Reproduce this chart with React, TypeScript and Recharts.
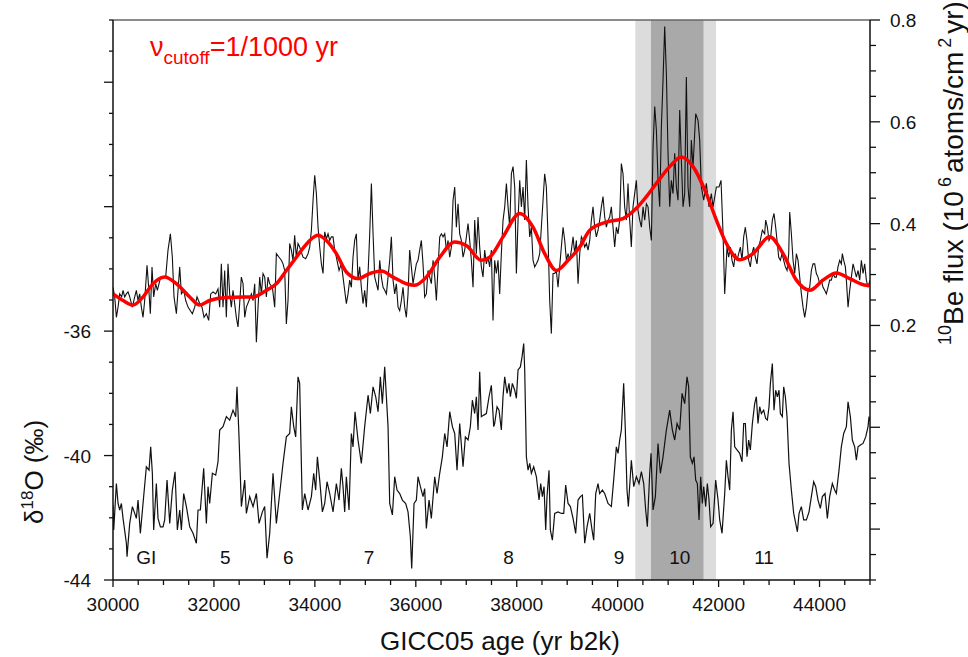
import React from 'react';
import {
  ComposedChart,
  Line,
  XAxis,
  YAxis,
  ReferenceArea,
  ReferenceLine,
  ReferenceDot,
} from 'recharts';

const FONT = '"Liberation Sans", Arial, Helvetica, sans-serif';

// ---------- axis ticks ----------
const xTicks = [
  30000, 30500, 31000, 31500, 32000, 32500, 33000, 33500, 34000, 34500, 35000, 35500,
  36000, 36500, 37000, 37500, 38000, 38500, 39000, 39500, 40000, 40500, 41000, 41500,
  42000, 42500, 43000, 43500, 44000, 44500, 45000,
];
const xTickLabels = [30000, 32000, 34000, 36000, 38000, 40000, 42000, 44000];
const d18oTicks = [-44, -43, -42, -41, -40, -39, -38, -37, -36, -35, -34, -33, -32, -31, -30, -29, -28, -27, -26];
const d18oMajorTicks = [-44, -40, -36, -32, -28];
const d18oTickLabels = [-44, -40, -36];
const beTicks = [
  -0.3, -0.25, -0.2, -0.15, -0.1, -0.05, 0, 0.05, 0.1, 0.15, 0.2, 0.25, 0.3, 0.35, 0.4,
  0.45, 0.5, 0.55, 0.6, 0.65, 0.7, 0.75, 0.8,
];
const beMajorTicks = [-0.2, 0, 0.2, 0.4, 0.6, 0.8];
const beTickLabels = [0.2, 0.4, 0.6, 0.8];

// ---------- shaded intervals (yr b2k) ----------
const outerBand = [40350, 41950];
const innerBand = [40660, 41700];

// ---------- event labels ----------
const eventNames = ['GI', '5', '6', '7', '8', '9', '10', '11'];
const eventAges = [30660, 32225, 33475, 35075, 37840, 40025, 41230, 42900];
const eventLevel = -43.26;

// ---------- 10Be flux (10^6 atoms/cm2/yr) ----------
const be10Record: [number, number][] = [
  [30000, 0.275], [30034, 0.256], [30067, 0.216], [30100, 0.236], [30133, 0.262], [30172, 0.256],
  [30199, 0.269], [30232, 0.256], [30265, 0.262], [30298, 0.266], [30331, 0.256], [30384, 0.236],
  [30430, 0.256], [30463, 0.269], [30496, 0.249], [30529, 0.262], [30562, 0.236], [30595, 0.216],
  [30628, 0.249], [30674, 0.318], [30707, 0.275], [30740, 0.223], [30773, 0.315], [30806, 0.256],
  [30846, 0.282], [30879, 0.269], [30912, 0.282], [30945, 0.295], [30991, 0.295], [31044, 0.295],
  [31090, 0.348], [31137, 0.380], [31176, 0.334], [31209, 0.256], [31256, 0.223], [31289, 0.269],
  [31322, 0.315], [31355, 0.262], [31401, 0.269], [31441, 0.249], [31487, 0.236], [31533, 0.229],
  [31573, 0.223], [31619, 0.236], [31665, 0.256], [31718, 0.243], [31764, 0.236], [31804, 0.216],
  [31850, 0.223], [31896, 0.210], [31936, 0.262], [31982, 0.266], [32035, 0.262], [32081, 0.272],
  [32114, 0.236], [32147, 0.321], [32180, 0.236], [32213, 0.308], [32246, 0.216], [32279, 0.321],
  [32312, 0.262], [32345, 0.236], [32378, 0.269], [32411, 0.243], [32444, 0.216], [32477, 0.197],
  [32510, 0.243], [32543, 0.295], [32577, 0.282], [32610, 0.216], [32643, 0.236], [32695, 0.249],
  [32742, 0.262], [32775, 0.249], [32808, 0.282], [32841, 0.167], [32874, 0.236], [32907, 0.295],
  [32940, 0.262], [32973, 0.302], [33006, 0.295], [33039, 0.256], [33072, 0.295], [33105, 0.282],
  [33158, 0.275], [33204, 0.236], [33237, 0.341], [33290, 0.334], [33336, 0.328], [33369, 0.321],
  [33402, 0.308], [33435, 0.203], [33468, 0.249], [33501, 0.361], [33534, 0.348], [33567, 0.328],
  [33600, 0.377], [33633, 0.334], [33666, 0.361], [33699, 0.354], [33766, 0.334], [33818, 0.331],
  [33865, 0.341], [33898, 0.354], [33931, 0.387], [33964, 0.446], [33997, 0.495], [34030, 0.459],
  [34063, 0.393], [34096, 0.354], [34129, 0.321], [34162, 0.302], [34195, 0.384], [34228, 0.370],
  [34261, 0.380], [34294, 0.367], [34327, 0.374], [34360, 0.374], [34393, 0.348], [34426, 0.334],
  [34479, 0.308], [34525, 0.321], [34558, 0.295], [34591, 0.269], [34624, 0.243], [34657, 0.262],
  [34690, 0.289], [34723, 0.275], [34756, 0.334], [34789, 0.367], [34822, 0.380], [34855, 0.289],
  [34888, 0.315], [34921, 0.275], [34954, 0.243], [34987, 0.269], [35020, 0.236], [35054, 0.302],
  [35087, 0.380], [35120, 0.479], [35153, 0.380], [35186, 0.295], [35219, 0.282], [35252, 0.269],
  [35285, 0.328], [35318, 0.295], [35351, 0.275], [35384, 0.269], [35417, 0.262], [35450, 0.295],
  [35483, 0.328], [35516, 0.374], [35549, 0.289], [35582, 0.262], [35615, 0.282], [35648, 0.236],
  [35681, 0.229], [35714, 0.249], [35747, 0.275], [35780, 0.236], [35813, 0.216], [35846, 0.262],
  [35879, 0.348], [35912, 0.315], [35945, 0.282], [35978, 0.302], [36011, 0.321], [36044, 0.328],
  [36077, 0.348], [36110, 0.367], [36143, 0.321], [36176, 0.256], [36209, 0.262], [36242, 0.308],
  [36275, 0.295], [36308, 0.282], [36342, 0.328], [36375, 0.295], [36408, 0.249], [36441, 0.315],
  [36474, 0.374], [36507, 0.380], [36540, 0.374], [36573, 0.380], [36606, 0.348], [36639, 0.367],
  [36672, 0.334], [36705, 0.354], [36738, 0.446], [36771, 0.472], [36804, 0.393], [36837, 0.439],
  [36870, 0.380], [36903, 0.367], [36936, 0.334], [36969, 0.348], [37002, 0.374], [37035, 0.400],
  [37068, 0.367], [37101, 0.328], [37134, 0.275], [37167, 0.407], [37200, 0.341], [37233, 0.413],
  [37266, 0.354], [37299, 0.315], [37332, 0.295], [37365, 0.348], [37398, 0.321], [37431, 0.334],
  [37464, 0.315], [37497, 0.348], [37530, 0.210], [37563, 0.328], [37596, 0.302], [37629, 0.328],
  [37662, 0.262], [37695, 0.341], [37729, 0.407], [37762, 0.433], [37795, 0.479], [37828, 0.433],
  [37861, 0.393], [37894, 0.498], [37927, 0.512], [37960, 0.472], [37993, 0.302], [38026, 0.407],
  [38059, 0.485], [38092, 0.433], [38125, 0.472], [38158, 0.407], [38191, 0.525], [38224, 0.433],
  [38257, 0.374], [38290, 0.393], [38323, 0.328], [38356, 0.315], [38389, 0.321], [38422, 0.328],
  [38455, 0.341], [38488, 0.393], [38521, 0.446], [38554, 0.498], [38587, 0.472], [38620, 0.374],
  [38653, 0.249], [38686, 0.184], [38719, 0.302], [38752, 0.302], [38785, 0.308], [38818, 0.275],
  [38851, 0.315], [38884, 0.354], [38918, 0.393], [38951, 0.367], [38984, 0.328], [39017, 0.341],
  [39050, 0.328], [39083, 0.348], [39116, 0.374], [39149, 0.341], [39182, 0.367], [39215, 0.282],
  [39248, 0.341], [39281, 0.374], [39314, 0.367], [39347, 0.354], [39380, 0.361], [39413, 0.348],
  [39446, 0.367], [39479, 0.407], [39512, 0.433], [39545, 0.393], [39578, 0.374], [39611, 0.387],
  [39644, 0.407], [39677, 0.433], [39710, 0.453], [39743, 0.413], [39776, 0.393], [39809, 0.407],
  [39842, 0.413], [39875, 0.433], [39908, 0.393], [39941, 0.354], [39974, 0.393], [40007, 0.380],
  [40040, 0.407], [40073, 0.518], [40106, 0.498], [40139, 0.433], [40172, 0.407], [40205, 0.479],
  [40238, 0.407], [40271, 0.354], [40304, 0.433], [40337, 0.459], [40370, 0.485], [40403, 0.426],
  [40437, 0.407], [40470, 0.393], [40503, 0.433], [40536, 0.407], [40569, 0.439], [40602, 0.433],
  [40635, 0.393], [40668, 0.367], [40701, 0.551], [40734, 0.630], [40767, 0.584], [40800, 0.485],
  [40833, 0.433], [40866, 0.590], [40899, 0.682], [40932, 0.787], [40965, 0.695], [40998, 0.538],
  [41031, 0.433], [41064, 0.485], [41097, 0.459], [41130, 0.538], [41163, 0.472], [41196, 0.446],
  [41229, 0.623], [41262, 0.525], [41295, 0.433], [41328, 0.459], [41361, 0.688], [41394, 0.472],
  [41427, 0.433], [41460, 0.564], [41493, 0.511], [41546, 0.616], [41592, 0.603], [41625, 0.564],
  [41658, 0.472], [41705, 0.446], [41757, 0.479], [41810, 0.433], [41856, 0.459], [41890, 0.433],
  [41956, 0.472], [42008, 0.472], [42048, 0.485], [42088, 0.380], [42121, 0.262], [42167, 0.354],
  [42200, 0.334], [42233, 0.354], [42266, 0.328], [42299, 0.315], [42332, 0.341], [42365, 0.328],
  [42398, 0.341], [42431, 0.354], [42464, 0.328], [42497, 0.374], [42530, 0.393], [42563, 0.367],
  [42596, 0.328], [42629, 0.315], [42662, 0.341], [42695, 0.354], [42728, 0.334], [42761, 0.321],
  [42794, 0.354], [42827, 0.367], [42867, 0.387], [42913, 0.380], [42933, 0.407], [42966, 0.393],
  [42999, 0.367], [43032, 0.374], [43065, 0.407], [43098, 0.420], [43131, 0.393], [43158, 0.367],
  [43191, 0.334], [43224, 0.328], [43257, 0.341], [43290, 0.328], [43323, 0.315], [43356, 0.308],
  [43389, 0.341], [43409, 0.423], [43442, 0.380], [43475, 0.328], [43508, 0.302], [43541, 0.341],
  [43574, 0.328], [43607, 0.295], [43640, 0.262], [43673, 0.236], [43706, 0.216], [43739, 0.236],
  [43772, 0.269], [43805, 0.275], [43838, 0.308], [43871, 0.321], [43904, 0.321], [43937, 0.302],
  [43970, 0.295], [44003, 0.282], [44036, 0.289], [44069, 0.275], [44102, 0.269], [44135, 0.262],
  [44168, 0.275], [44201, 0.289], [44234, 0.289], [44267, 0.302], [44300, 0.295], [44333, 0.295],
  [44366, 0.315], [44399, 0.328], [44432, 0.321], [44452, 0.341], [44479, 0.328], [44512, 0.315],
  [44532, 0.289], [44565, 0.236], [44598, 0.269], [44631, 0.295], [44664, 0.321], [44697, 0.308],
  [44730, 0.295], [44763, 0.308], [44796, 0.289], [44829, 0.328], [44862, 0.302], [44895, 0.321],
  [44928, 0.289], [44961, 0.275], [45000, 0.289],
];

// ---------- low-pass filtered 10Be flux (cutoff 1/1000 yr) ----------
const be10Smooth: [number, number][] = [
  [30000, 0.262], [30199, 0.249], [30397, 0.240], [30595, 0.256], [30793, 0.282], [31024, 0.295],
  [31256, 0.282], [31520, 0.256], [31718, 0.240], [31916, 0.249], [32246, 0.255], [32577, 0.256],
  [32775, 0.256], [33039, 0.269], [33237, 0.282], [33435, 0.308], [33633, 0.334], [33799, 0.356],
  [33898, 0.367], [34063, 0.377], [34228, 0.367], [34426, 0.341], [34624, 0.305], [34855, 0.292],
  [35087, 0.302], [35318, 0.307], [35549, 0.295], [35813, 0.282], [35978, 0.279], [36209, 0.295],
  [36474, 0.334], [36771, 0.364], [37002, 0.357], [37299, 0.328], [37464, 0.334], [37729, 0.374],
  [38059, 0.420], [38323, 0.393], [38554, 0.341], [38785, 0.308], [39017, 0.328], [39248, 0.354],
  [39446, 0.387], [39776, 0.403], [40106, 0.410], [40370, 0.430], [40569, 0.453], [40767, 0.479],
  [41031, 0.512], [41262, 0.531], [41493, 0.512], [41757, 0.459], [41956, 0.407], [42154, 0.361],
  [42418, 0.329], [42682, 0.341], [43012, 0.374], [43277, 0.341], [43541, 0.289], [43805, 0.269],
  [44069, 0.289], [44333, 0.303], [44598, 0.292], [44928, 0.279], [45000, 0.279],
];

// ---------- NGRIP δ18O (‰) ----------
const d18oRecord: [number, number][] = [
  [30000, -41.6], [30014, -42.39], [30067, -40.9], [30100, -41.54], [30133, -41.75], [30166, -41.54],
  [30199, -42.02], [30265, -42.82], [30278, -43.25], [30331, -42.18], [30384, -41.64], [30430, -41.86],
  [30463, -42.02], [30496, -41.43], [30542, -42.5], [30595, -41.54], [30661, -40.36], [30714, -40.47],
  [30747, -39.72], [30780, -40.57], [30806, -42.39], [30859, -40.9], [30892, -42.02], [30939, -42.29],
  [30991, -42.29], [31024, -42.07], [31071, -40.79], [31124, -42.18], [31176, -41.11], [31229, -40.52],
  [31275, -42.39], [31322, -41.75], [31355, -42.39], [31401, -41.22], [31454, -41.64], [31520, -42.29],
  [31586, -42.5], [31652, -42.82], [31685, -41.75], [31731, -41.75], [31797, -40.41], [31850, -42.18],
  [31883, -41.0], [31916, -41.54], [31969, -40.57], [32035, -40.63], [32081, -40.2], [32114, -39.18],
  [32180, -39.07], [32246, -38.75], [32312, -38.86], [32378, -38.54], [32431, -38.75], [32457, -37.79],
  [32497, -39.4], [32544, -41.64], [32610, -40.79], [32643, -41.86], [32709, -41.32], [32775, -41.64],
  [32841, -41.22], [32894, -42.18], [32960, -41.81], [33006, -41.64], [33052, -43.3], [33105, -42.5],
  [33171, -40.57], [33237, -42.18], [33303, -41.22], [33369, -40.25], [33435, -39.4], [33501, -39.29],
  [33534, -38.43], [33581, -39.07], [33620, -39.4], [33666, -37.47], [33699, -37.68], [33752, -41.75],
  [33799, -41.22], [33865, -41.75], [33931, -41.32], [33977, -40.57], [34016, -41.11], [34050, -40.04],
  [34096, -40.79], [34149, -41.81], [34195, -41.54], [34241, -40.84], [34294, -41.22], [34360, -41.81],
  [34426, -40.9], [34479, -41.43], [34525, -40.41], [34558, -41.0], [34591, -41.81], [34624, -40.68],
  [34677, -41.75], [34723, -39.29], [34756, -39.72], [34796, -38.59], [34855, -39.5], [34921, -40.25],
  [34987, -39.07], [35054, -38.06], [35100, -38.65], [35153, -37.79], [35206, -38.11], [35252, -38.59],
  [35298, -37.47], [35337, -38.33], [35384, -37.15], [35417, -38.11], [35450, -39.07], [35483, -41.54],
  [35536, -41.91], [35582, -40.68], [35628, -41.11], [35681, -41.22], [35734, -41.43], [35800, -41.54],
  [35846, -41.81], [35892, -42.61], [35919, -43.63], [35965, -41.54], [36011, -41.43], [36044, -40.68],
  [36091, -41.0], [36143, -41.32], [36176, -41.06], [36209, -42.34], [36262, -41.43], [36308, -42.02],
  [36375, -40.68], [36421, -41.22], [36474, -40.57], [36526, -40.04], [36573, -39.29], [36619, -39.72],
  [36672, -38.59], [36725, -39.07], [36771, -39.29], [36817, -40.47], [36870, -38.97], [36936, -40.36],
  [36982, -39.4], [37035, -39.5], [37081, -39.07], [37121, -38.22], [37167, -38.65], [37200, -38.11],
  [37233, -39.18], [37266, -37.31], [37299, -38.75], [37346, -38.7], [37398, -38.65], [37451, -38.11],
  [37497, -37.74], [37544, -39.07], [37563, -38.97], [37610, -38.43], [37649, -38.54], [37695, -39.18],
  [37728, -38.11], [37762, -37.47], [37808, -38.0], [37847, -37.68], [37874, -38.11], [37913, -37.68],
  [37960, -37.9], [37993, -38.16], [38026, -37.25], [38072, -37.15], [38105, -36.83], [38138, -36.4],
  [38158, -37.25], [38191, -40.04], [38224, -40.47], [38257, -40.25], [38290, -40.57], [38336, -40.36],
  [38389, -40.68], [38442, -41.43], [38475, -40.9], [38508, -41.32], [38541, -41.0], [38574, -42.39],
  [38600, -41.32], [38640, -40.47], [38666, -42.39], [38706, -42.72], [38752, -41.86], [38818, -41.81],
  [38884, -41.86], [38931, -41.86], [38970, -40.95], [39017, -41.54], [39063, -41.64], [39116, -42.02],
  [39168, -42.5], [39215, -41.43], [39261, -41.32], [39301, -41.27], [39347, -42.82], [39393, -42.29],
  [39446, -41.86], [39492, -42.39], [39525, -42.72], [39565, -41.22], [39611, -40.9], [39644, -41.22],
  [39697, -41.11], [39743, -41.22], [39809, -41.54], [39875, -41.64], [39921, -40.79], [39974, -39.72],
  [40007, -39.93], [40040, -39.5], [40073, -39.18], [40119, -37.68], [40152, -39.18], [40185, -41.11],
  [40212, -41.64], [40271, -40.15], [40318, -41.0], [40371, -40.68], [40423, -40.9], [40470, -40.52],
  [40516, -40.9], [40555, -41.75], [40588, -42.29], [40635, -40.57], [40661, -39.93], [40701, -41.75],
  [40747, -41.32], [40800, -39.61], [40846, -40.57], [40899, -40.04], [40965, -39.18], [41031, -38.54],
  [41084, -39.18], [41130, -39.5], [41177, -38.97], [41229, -39.18], [41276, -38.0], [41328, -38.33],
  [41374, -37.47], [41407, -37.79], [41440, -40.04], [41480, -40.25], [41513, -40.04], [41546, -40.79],
  [41579, -40.9], [41612, -42.07], [41645, -40.68], [41678, -41.54], [41705, -41.0], [41744, -41.64],
  [41777, -40.9], [41810, -41.43], [41843, -42.29], [41890, -42.18], [41942, -40.79], [41989, -41.43],
  [42022, -42.07], [42068, -42.5], [42121, -41.22], [42154, -40.15], [42187, -40.68], [42220, -41.11],
  [42253, -39.18], [42286, -38.59], [42319, -39.72], [42365, -39.82], [42418, -39.93], [42464, -40.2],
  [42497, -38.97], [42530, -38.97], [42563, -40.04], [42596, -39.5], [42629, -39.82], [42669, -38.97],
  [42715, -38.33], [42748, -38.11], [42781, -38.97], [42814, -38.43], [42847, -38.65], [42893, -38.54],
  [42933, -38.81], [42966, -38.86], [42999, -38.43], [43026, -37.68], [43065, -37.04], [43098, -38.54],
  [43131, -37.9], [43164, -38.11], [43197, -37.9], [43224, -38.65], [43263, -38.75], [43290, -37.79],
  [43323, -38.11], [43356, -38.75], [43395, -40.25], [43442, -41.11], [43488, -41.86], [43528, -42.18],
  [43561, -42.45], [43594, -41.86], [43640, -41.64], [43686, -42.07], [43739, -42.07], [43792, -41.81],
  [43838, -41.32], [43884, -40.84], [43924, -41.0], [43970, -41.43], [44016, -41.7], [44056, -41.32],
  [44109, -41.22], [44155, -42.02], [44201, -41.32], [44254, -40.9], [44300, -41.11], [44333, -41.22],
  [44386, -40.47], [44432, -39.72], [44479, -39.29], [44532, -39.07], [44565, -38.27], [44611, -38.75],
  [44650, -39.5], [44697, -39.72], [44730, -40.15], [44763, -39.72], [44809, -39.66], [44862, -39.61],
  [44915, -39.4], [44961, -39.07], [44981, -38.75], [45000, -38.9],
];

const be10Data = be10Record.map(([age, v]) => ({ age, v }));
const smoothData = be10Smooth.map(([age, v]) => ({ age, v }));
const d18oData = d18oRecord.map(([age, v]) => ({ age, v }));

const INK = '#111';

function XTick(props: any) {
  const { x, y, payload } = props;
  const v = payload.value;
  const labeled = xTickLabels.includes(v);
  return (
    <g>
      <line x1={x} x2={x} y1={y} y2={y + (labeled ? 7 : 5)} stroke={INK} strokeWidth={1.3} />
      {labeled && (
        <text x={x} y={y + 31} textAnchor="middle" fontSize={19} fontFamily={FONT} fill={INK}>
          {v}
        </text>
      )}
    </g>
  );
}

function LeftTick(props: any) {
  const { x, y, payload } = props;
  const v = payload.value;
  const major = d18oMajorTicks.includes(v);
  const labeled = d18oTickLabels.includes(v);
  return (
    <g>
      <line x1={x - (major ? 9 : 4)} x2={x} y1={y} y2={y} stroke={INK} strokeWidth={1.3} />
      {labeled && (
        <text x={x - 22} y={y + 7} textAnchor="end" fontSize={19} fontFamily={FONT} fill={INK}>
          {v}
        </text>
      )}
    </g>
  );
}

function RightTick(props: any) {
  const { x, y, payload } = props;
  const v = payload.value;
  const near = (arr: number[]) => arr.some((a) => Math.abs(a - v) < 1e-6);
  const major = near(beMajorTicks);
  const labeled = near(beTickLabels);
  return (
    <g>
      <line x1={x} x2={x + (major ? 10 : 6)} y1={y} y2={y} stroke={INK} strokeWidth={1.3} />
      {labeled && (
        <text x={x + 20} y={y + 7} textAnchor="start" fontSize={19} fontFamily={FONT} fill={INK}>
          {v.toFixed(1)}
        </text>
      )}
    </g>
  );
}

export default function App() {
  return (
    <div style={{ position: 'absolute', left: 0, top: 0, width: 968, height: 657, background: '#fff' }}>
      <ComposedChart width={968} height={657} margin={{ top: 20, right: 0, bottom: 0, left: 0 }}>
        <XAxis
          dataKey="age"
          type="number"
          domain={[30000, 45000]}
          ticks={xTicks}
          interval={0}
          allowDataOverflow
          height={77}
          tickSize={0}
          tickMargin={0}
          tickLine={false}
          tick={<XTick />}
          axisLine={{ stroke: INK, strokeWidth: 1.5 }}
        />
        <YAxis
          yAxisId="d18o"
          orientation="left"
          type="number"
          domain={[-44, -26]}
          ticks={d18oTicks}
          interval={0}
          allowDataOverflow
          width={113}
          tickSize={0}
          tickMargin={0}
          tickLine={false}
          tick={<LeftTick />}
          axisLine={{ stroke: INK, strokeWidth: 1.5 }}
        />
        <YAxis
          yAxisId="be"
          orientation="right"
          type="number"
          domain={[-0.3, 0.8]}
          ticks={beTicks}
          interval={0}
          allowDataOverflow
          width={98}
          tickSize={0}
          tickMargin={0}
          tickLine={false}
          tick={<RightTick />}
          axisLine={{ stroke: INK, strokeWidth: 1.5 }}
        />
        <ReferenceArea yAxisId="d18o" x1={outerBand[0]} x2={outerBand[1]} fill="#dcdcdc" fillOpacity={1} stroke="none" />
        <ReferenceArea yAxisId="d18o" x1={innerBand[0]} x2={innerBand[1]} fill="#a9a9a9" fillOpacity={1} stroke="none" />
        <ReferenceLine yAxisId="d18o" y={-26} stroke="#666" strokeWidth={1.5} />
        <Line
          data={d18oData}
          dataKey="v"
          yAxisId="d18o"
          type="linear"
          stroke={INK}
          strokeWidth={1.2}
          dot={false}
          isAnimationActive={false}
        />
        <Line
          data={be10Data}
          dataKey="v"
          yAxisId="be"
          type="linear"
          stroke={INK}
          strokeWidth={1.1}
          dot={false}
          isAnimationActive={false}
        />
        <Line
          data={smoothData}
          dataKey="v"
          yAxisId="be"
          type="monotone"
          stroke="#ff0000"
          strokeWidth={3.5}
          dot={false}
          isAnimationActive={false}
        />
        {eventNames.map((name, i) => (
          <ReferenceDot
            key={name}
            yAxisId="d18o"
            x={eventAges[i]}
            y={eventLevel}
            r={0}
            fill="none"
            stroke="none"
            label={{ value: name, position: 'center', fontSize: 19, fill: INK, fontFamily: FONT }}
          />
        ))}
      </ComposedChart>
      <svg
        width={968}
        height={657}
        style={{ position: 'absolute', left: 0, top: 0, pointerEvents: 'none' }}
        fontFamily={FONT}
      >
        <text x={150} y={56} fill="#ff0000" fontSize={27}>
          ν<tspan fontSize={19} dy={8}>cutoff</tspan>
          <tspan dy={-8}>=1/1000 yr</tspan>
        </text>
        <text x={500} y={650} textAnchor="middle" fontSize={26} fill={INK}>
          GICC05 age (yr b2k)
        </text>
        <text transform="translate(43,524) rotate(-90)" fontSize={26} fill={INK}>
          δ<tspan fontSize={17} dy={-10}>18</tspan>
          <tspan dy={10}>O (‰)</tspan>
        </text>
        <text transform="translate(963,345) rotate(-90)" fontSize={28} fill={INK}>
          <tspan fontSize={18} dy={-12}>10</tspan>
          <tspan dy={12}>Be flux (10</tspan>
          <tspan fontSize={18} dy={-12} dx={4}>6</tspan>
          <tspan dy={12} dx={4}>atoms/cm</tspan>
          <tspan fontSize={18} dy={-12} dx={4}>2</tspan>
          <tspan dy={12} dx={4}>yr)</tspan>
        </text>
      </svg>
    </div>
  );
}
